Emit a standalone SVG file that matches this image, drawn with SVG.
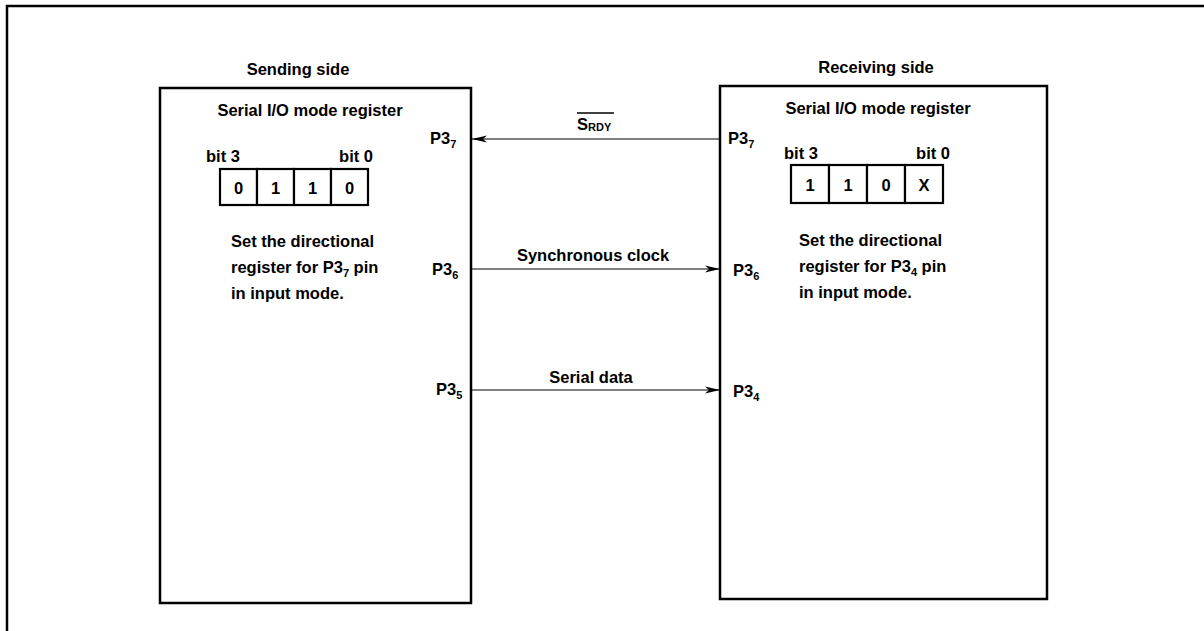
<svg xmlns="http://www.w3.org/2000/svg" width="1204" height="631" viewBox="0 0 1204 631">
<style>
text{font-family:"Liberation Sans",Arial,sans-serif;font-size:16.5px;fill:#000;font-weight:bold}
.box{fill:none;stroke:#000;stroke-width:2.5}
.reg{fill:#fff;stroke:#000;stroke-width:2.2}
.conn{stroke:#000;stroke-width:1.2;fill:none}
.sub{font-size:11px}
</style>
<defs>
<marker id="ah" markerWidth="16" markerHeight="8" refX="15" refY="4" orient="auto" markerUnits="userSpaceOnUse">
<path d="M0,0.5 L15,4 L0,7.5 L4,4 Z" fill="#000"/>
</marker>
</defs>
<rect width="1204" height="631" fill="#fff"/>
<path class="box" d="M7,631 V6 H1204"/>

<g id="sending">
<text x="298" y="75" text-anchor="middle">Sending side</text>
<rect class="box" x="160" y="88" width="311" height="515"/>
<text x="310" y="116" text-anchor="middle">Serial I/O mode register</text>
<text x="206" y="162">bit 3</text>
<text x="373" y="162" text-anchor="end">bit 0</text>
<g id="sreg">
<rect class="reg" x="220" y="169" width="37" height="36"/>
<rect class="reg" x="257" y="169" width="37" height="36"/>
<rect class="reg" x="294" y="169" width="37" height="36"/>
<rect class="reg" x="331" y="169" width="37" height="36"/>
<text x="238.5" y="194" text-anchor="middle">0</text>
<text x="275.5" y="194" text-anchor="middle">1</text>
<text x="312.5" y="194" text-anchor="middle">1</text>
<text x="349.5" y="194" text-anchor="middle">0</text>
</g>
<text x="231" y="247">Set the directional</text>
<text x="231" y="273">register for P3<tspan class="sub" dy="4">7</tspan><tspan dy="-4"> pin</tspan></text>
<text x="231" y="299">in input mode.</text>
<text x="430" y="144">P3<tspan class="sub" dy="4">7</tspan></text>
<text x="432" y="275">P3<tspan class="sub" dy="4">6</tspan></text>
<text x="436" y="395">P3<tspan class="sub" dy="4">5</tspan></text>
</g>

<g id="receiving">
<text x="876" y="73" text-anchor="middle">Receiving side</text>
<rect class="box" x="720" y="86" width="327" height="513"/>
<text x="878" y="114" text-anchor="middle">Serial I/O mode register</text>
<text x="784" y="159">bit 3</text>
<text x="950" y="159" text-anchor="end">bit 0</text>
<g id="rreg">
<rect class="reg" x="791" y="165" width="38" height="38"/>
<rect class="reg" x="829" y="165" width="38" height="38"/>
<rect class="reg" x="867" y="165" width="38" height="38"/>
<rect class="reg" x="905" y="165" width="38" height="38"/>
<text x="810" y="191" text-anchor="middle">1</text>
<text x="848" y="191" text-anchor="middle">1</text>
<text x="886" y="191" text-anchor="middle">0</text>
<text x="924" y="191" text-anchor="middle">X</text>
</g>
<text x="799" y="246">Set the directional</text>
<text x="799" y="272">register for P3<tspan class="sub" dy="4">4</tspan><tspan dy="-4"> pin</tspan></text>
<text x="799" y="298">in input mode.</text>
<text x="728" y="144">P3<tspan class="sub" dy="4">7</tspan></text>
<text x="733" y="276">P3<tspan class="sub" dy="4">6</tspan></text>
<text x="733" y="397">P3<tspan class="sub" dy="4">4</tspan></text>
</g>

<g id="connectors">
<line class="conn" x1="720" y1="139" x2="472" y2="139" marker-end="url(#ah)"/>
<line class="conn" x1="472" y1="269" x2="720" y2="269" marker-end="url(#ah)"/>
<line class="conn" x1="472" y1="390" x2="720" y2="390" marker-end="url(#ah)"/>
<text x="577" y="130">S<tspan class="sub" dy="1">RDY</tspan></text>
<line x1="577" y1="113" x2="614" y2="113" stroke="#000" stroke-width="1.3"/>
<text x="593" y="261" text-anchor="middle">Synchronous clock</text>
<text x="591" y="383" text-anchor="middle">Serial data</text>
</g>
</svg>
